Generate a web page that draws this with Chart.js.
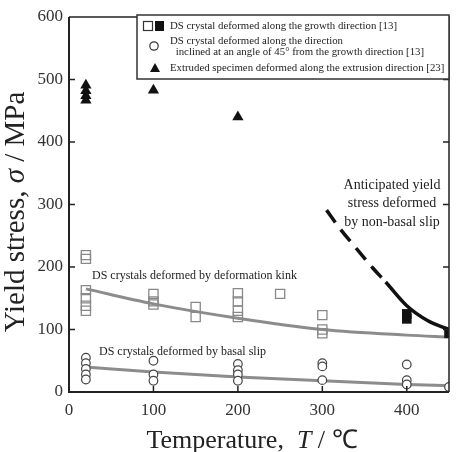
<!DOCTYPE html>
<html>
<head>
<meta charset="utf-8">
<script src="https://cdn.jsdelivr.net/npm/chart.js@4/dist/chart.umd.min.js"></script>
<style>
html, body { margin: 0; padding: 0; background: #fff; }
#wrap { width: 458px; height: 452px; position: relative; }
</style>
</head>
<body>
<div id="wrap"><canvas id="chart"></canvas></div>
<script>
// temperatures (degC) and yield stress (MPa)
const growthOpenT = [20, 20, 20, 20, 20, 20, 100, 100, 100, 150, 150, 200, 200, 200, 200, 250, 300, 300, 300];
const growthOpenS = [219, 213, 163, 150, 138, 130, 157, 145, 140, 136, 120, 158, 145, 130, 120, 157, 123, 100, 94];
const growthFilledT = [400, 400, 450];
const growthFilledS = [125, 117, 94];
const inclinedT = [20, 20, 20, 20, 20, 100, 100, 100, 200, 200, 200, 200, 300, 300, 300, 400, 400, 400, 450];
const inclinedS = [55, 46, 37, 28, 20, 50, 28, 18, 45, 35, 28, 18, 46, 41, 19, 44, 19, 12, 8];
const extrudedT = [20, 20, 20, 20, 100, 200];
const extrudedS = [491, 482, 474, 467, 483, 440];

// fitted trend curves
const kinkFitT = [20, 100, 200, 300, 400, 450];
const kinkFitS = [165, 141, 118, 100, 91, 88];
const basalFitT = [20, 100, 200, 300, 400, 450];
const basalFitS = [40, 32, 24, 18, 12, 10];
const nonBasalT = [305, 320, 340, 360, 375, 400, 425, 450];
const nonBasalS = [291, 263, 230, 198, 176, 138, 114, 100];
const dashedUntilT = 375;

const xTicks = [0, 100, 200, 300, 400];
const yTicks = [0, 100, 200, 300, 400, 500, 600];

const legendItems = [
    ['DS crystal deformed along the growth direction [13]'],
    ['DS crystal deformed along the direction', ' inclined at an angle of 45\u00b0 from the growth direction [13]'],
    ['Extruded specimen deformed along the extrusion direction [23]'],
];

const SERIF = '"Liberation Serif", "Times New Roman", serif';
const zip = (xs, ys) => xs.map((x, i) => ({ x, y: ys[i] }));

const framePlugin = {
    id: 'frame',
    afterDraw(chart) {
        const { ctx, chartArea: a, scales } = chart;
        const xs = scales.x, ys = scales.y;
        ctx.save();

        // box and inward ticks
        ctx.strokeStyle = '#222';
        ctx.lineWidth = 2;
        ctx.beginPath();
        ctx.moveTo(a.left, a.top); ctx.lineTo(a.left, a.bottom); ctx.lineTo(a.right, a.bottom);
        ctx.stroke();
        ctx.lineWidth = 1.5;
        ctx.beginPath();
        ctx.moveTo(a.left, a.top); ctx.lineTo(a.right, a.top); ctx.lineTo(a.right, a.bottom);
        ctx.stroke();
        ctx.beginPath();
        yTicks.forEach(v => {
            if (v === 0 || v === 600) return;
            const py = ys.getPixelForValue(v);
            ctx.moveTo(a.left, py); ctx.lineTo(a.left + 6, py);
            ctx.moveTo(a.right, py); ctx.lineTo(a.right - 6, py);
        });
        xTicks.forEach(v => {
            if (v === 0) return;
            const px = xs.getPixelForValue(v);
            ctx.moveTo(px, a.bottom); ctx.lineTo(px, a.bottom - 6);
        });
        ctx.stroke();

        // legend box
        const lx = 137, ly = 15, lw = 312, lh = 64;
        ctx.fillStyle = '#fff';
        ctx.fillRect(lx, ly, lw, lh);
        ctx.strokeStyle = '#333';
        ctx.lineWidth = 1.5;
        ctx.strokeRect(lx, ly, lw, lh);

        ctx.lineWidth = 1.2;
        ctx.strokeRect(143.5, 21.5, 9, 9);
        ctx.fillStyle = '#111';
        ctx.fillRect(155, 21, 9, 10);
        ctx.beginPath();
        ctx.arc(154, 46, 4.2, 0, Math.PI * 2);
        ctx.stroke();
        ctx.beginPath();
        ctx.moveTo(155, 63); ctx.lineTo(160, 72); ctx.lineTo(150, 72); ctx.closePath();
        ctx.fill();

        ctx.fillStyle = '#222';
        ctx.font = '10.8px ' + SERIF;
        ctx.textBaseline = 'middle';
        ctx.textAlign = 'left';
        ctx.fillText(legendItems[0][0], 170, 26);
        ctx.fillText(legendItems[1][0], 170, 41);
        ctx.fillText(legendItems[1][1], 173, 52);
        ctx.fillText(legendItems[2][0], 170, 68);

        // annotations
        ctx.font = '12px ' + SERIF;
        ctx.fillText('DS crystals deformed by deformation kink', 92, 276);
        ctx.fillText('DS crystals deformed by basal slip', 99, 352);
        ctx.font = '14px ' + SERIF;
        ctx.textAlign = 'center';
        ctx.fillText('Anticipated yield', 392, 185);
        ctx.fillText('stress deformed', 392, 203);
        ctx.fillText('by non-basal slip', 392, 222);

        // axis titles with italic symbols
        const drawParts = (parts, x, y) => {
            const widths = parts.map(([t, f]) => { ctx.font = f; return ctx.measureText(t).width; });
            let cx = x - widths.reduce((s, w) => s + w, 0) / 2;
            parts.forEach(([t, f], i) => { ctx.font = f; ctx.fillText(t, cx, y); cx += widths[i]; });
        };
        ctx.textAlign = 'left';
        ctx.textBaseline = 'alphabetic';
        ctx.fillStyle = '#222';
        const up = '26px ' + SERIF, it = 'italic 26px ' + SERIF;
        drawParts([['Temperature,  ', up], ['T', it], [' / \u2103', up]], 252, 448);
        const upY = '29px ' + SERIF, itY = 'italic 29px ' + SERIF;
        ctx.save();
        ctx.translate(24, 212);
        ctx.rotate(-Math.PI / 2);
        drawParts([['Yield stress, ', upY], ['\u03c3', itY], [' / MPa', upY]], 0, 0);
        ctx.restore();

        ctx.restore();
    },
};

const chart = new Chart(document.getElementById('chart'), {
    type: 'scatter',
    data: {
        datasets: [
            {
                label: 'Extruded',
                data: zip(extrudedT, extrudedS),
                pointStyle: 'triangle',
                pointRadius: 6.5,
                backgroundColor: '#111',
                borderColor: '#111',
                borderWidth: 0,
            },
            {
                label: 'Growth (filled)',
                data: zip(growthFilledT, growthFilledS),
                pointStyle: 'rect',
                pointRadius: 6.8,
                backgroundColor: '#111',
                borderColor: '#111',
                borderWidth: 0,
            },
            {
                label: 'Growth',
                data: zip(growthOpenT, growthOpenS),
                pointStyle: 'rect',
                pointRadius: 6.5,
                backgroundColor: 'rgba(255,255,255,0)',
                borderColor: '#888',
                borderWidth: 1.3,
            },
            {
                label: 'Inclined 45',
                data: zip(inclinedT, inclinedS),
                pointStyle: 'circle',
                pointRadius: 4.3,
                backgroundColor: '#fff',
                borderColor: '#444',
                borderWidth: 1.2,
            },
            {
                label: 'Non-basal',
                data: zip(nonBasalT, nonBasalS),
                showLine: true,
                pointRadius: 0,
                borderColor: '#111',
                borderWidth: 3.5,
                cubicInterpolationMode: 'monotone',
                segment: {
                    borderDash: c => (c.p1.parsed.x <= dashedUntilT ? [15, 9] : undefined),
                },
            },
            {
                label: 'Kink fit',
                data: zip(kinkFitT, kinkFitS),
                showLine: true,
                pointRadius: 0,
                borderColor: '#8c8c8c',
                borderWidth: 3,
                cubicInterpolationMode: 'monotone',
            },
            {
                label: 'Basal fit',
                data: zip(basalFitT, basalFitS),
                showLine: true,
                pointRadius: 0,
                borderColor: '#8c8c8c',
                borderWidth: 3,
                cubicInterpolationMode: 'monotone',
            },
        ],
    },
    options: {
        responsive: true,
        maintainAspectRatio: false,
        animation: false,
        layout: { padding: { top: 17, right: 9, left: 0, bottom: 0 } },
        plugins: {
            legend: { display: false },
            tooltip: { enabled: false },
        },
        scales: {
            x: {
                type: 'linear',
                min: 0,
                max: 450,
                grid: { display: false, drawTicks: false },
                border: { display: false },
                afterBuildTicks: s => { s.ticks = xTicks.map(v => ({ value: v })); },
                afterFit: s => { s.height = 60; },
                ticks: { padding: 8, color: '#333', font: { family: SERIF, size: 17 } },
            },
            y: {
                type: 'linear',
                min: 0,
                max: 600,
                grid: { display: false, drawTicks: false },
                border: { display: false },
                afterBuildTicks: s => { s.ticks = yTicks.map(v => ({ value: v })); },
                afterFit: s => { s.width = 69; },
                ticks: { padding: 6, color: '#333', font: { family: SERIF, size: 17 } },
            },
        },
    },
    plugins: [framePlugin],
});
</script>
</body>
</html>
